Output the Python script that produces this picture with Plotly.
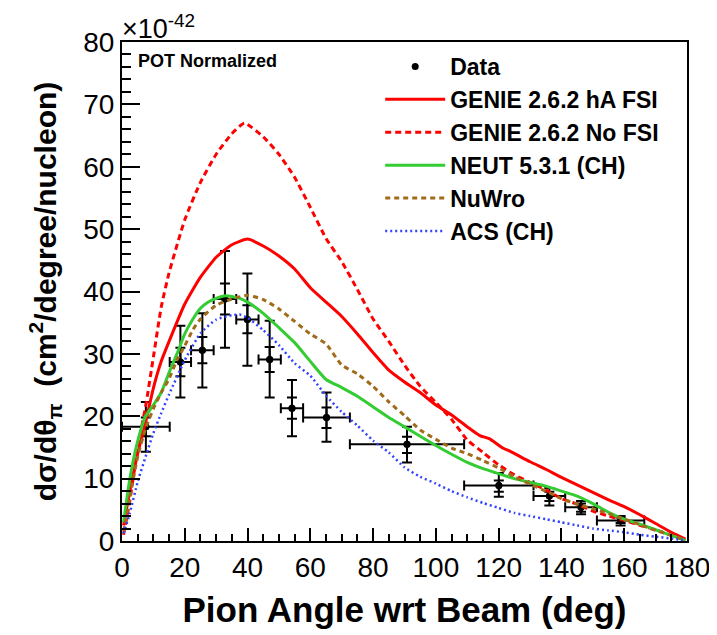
import plotly.graph_objects as go
import numpy as np

# ---------------- data ----------------
bin_edges = [0, 15.2, 22, 29.2, 36.4, 43.5, 50.6, 57.7, 72.6, 109, 131.1, 141.2, 151.3, 166.4]
data_y = [18.3, 28.7, 30.6, 38.8, 35.5, 29.1, 21.3, 19.8, 15.5, 8.9, 7.2, 5.4, 3.3]
tot_hi = [22.3, 34.5, 36.5, 46.5, 42.9, 35.3, 25.8, 23.8, 18.3, 10.9, 8.5, 6.4, 4.0]
tot_lo = [14.3, 23.0, 24.6, 31.0, 28.1, 23.0, 16.8, 15.9, 12.6, 7.1, 5.7, 4.3, 2.5]
stat_hi = [19.8, 31.0, 32.7, 41.3, 37.8, 31.1, 23.0, 21.4, 16.7, 9.7, 7.9, 6.0, 3.75]
stat_lo = [16.8, 26.4, 28.5, 36.3, 33.3, 27.1, 19.6, 18.1, 14.1, 7.9, 6.4, 4.7, 2.9]

genie_ha_x = [0.5, 2.5, 5, 7.5, 10, 12.5, 15, 20, 25, 30, 35, 40, 45, 50, 55, 60, 65, 70, 75, 80,
              85, 90, 95, 100, 105, 110, 114, 117, 121, 124, 130, 135, 140, 145, 150, 155, 160, 165,
              170, 175, 179.5]
genie_ha_y = [2.5, 8, 14, 19, 24.5, 28.8, 32, 38, 42.3, 45.5, 47.5, 48.4, 47.3, 45.7, 43.6, 40.6,
              38.3, 36.0, 33.2, 30.2, 27.4, 25.5, 23.8, 21.8, 20.2, 18.3, 16.9, 16.4, 15.0, 14.3,
              12.7, 11.5, 10.2, 9.0, 7.8, 6.6, 5.5, 4.2, 2.8, 1.4, 0.3]

genie_nofsi_x = [0.5, 2.5, 5, 7.5, 10, 12.5, 15, 20, 25, 30, 35, 39, 45, 50, 55, 60, 65, 70, 75, 80,
                 85, 90, 95, 100, 105, 110, 115, 120, 125, 130, 135, 140, 145, 150, 155, 160, 165,
                 170, 175, 179.5]
genie_nofsi_y = [1, 6.5, 15, 21.5, 29.5, 37.5, 43, 51.5, 57.5, 62, 65.3, 67.0, 64.8, 62, 58.3, 53.5,
                 48.5, 44.8, 40.3, 35.6, 32, 28.2, 24.8, 22.2, 19.5, 16.2, 14.2, 12.2, 10.6, 9.4,
                 8.2, 6.8, 5.9, 4.8, 4.0, 3.3, 2.5, 1.8, 0.9, 0.1]

neut_x = [0.5, 2.5, 5, 7.5, 10, 12.5, 15, 17.5, 20, 22.5, 25, 27.5, 30, 33, 37.5, 40, 45, 50, 55, 60,
          65, 70, 75, 80, 85, 90, 95, 100, 105, 110, 115, 120, 125, 130, 135, 140, 145, 150, 155,
          160, 165, 170, 175, 179.5]
neut_y = [3, 10, 16, 20, 21.8, 23.8, 27, 30, 33.2, 35.5, 37.3, 38.3, 38.9, 39.3, 38.9, 38.3, 36.5,
          34.2, 31.8, 28.8, 25.9, 24.6, 23.2, 21.5, 19.8, 18.3, 16.8, 15.3, 13.9, 12.6, 11.6, 10.8,
          10.0, 9.4, 8.8, 8.0, 7.2, 6.0, 4.6, 3.5, 2.7, 1.8, 0.9, 0.1]

nuwro_x = [0.5, 2.5, 5, 7.5, 10, 12.5, 15, 17.5, 20, 22.5, 25, 30, 35, 40, 45, 50, 55, 60, 65, 70,
           75, 80, 85, 90, 95, 100, 105, 110, 115, 120, 125, 130, 135, 140, 145, 150, 155, 160,
           165, 170, 175, 179.5]
nuwro_y = [1.5, 7, 13.5, 18, 21.2, 23.8, 26, 29, 31.3, 33.8, 35.6, 37.8, 38.8, 39.4, 38.7, 37.2,
           35.2, 33.2, 31.6, 28.2, 26.8, 24.8, 22.3, 20.1, 17.8, 16.3, 14.9, 14.0, 12.9, 11.7,
           10.3, 9.1, 8.0, 6.8, 5.9, 5.2, 4.4, 3.5, 2.6, 1.7, 0.9, 0.1]

acs_x = [0.5, 2.5, 5, 7.5, 10, 12.5, 15, 20, 25, 30, 35, 37.5, 40, 45, 50, 55, 60, 65, 70, 75, 80,
         85, 90, 95, 100, 105, 110, 115, 120, 125, 130, 135, 140, 145, 150, 155, 160, 165, 170,
         175, 179.5]
acs_y = [1.2, 4.5, 9.5, 13.5, 17.3, 20.5, 23.5, 29, 33.3, 35.5, 36.2, 36.3, 35.8, 33.8, 31.4, 28.5,
         26.5, 23.3, 20.7, 18.5, 16.1, 14.2, 11.8, 10.3, 9.2, 8.0, 7.0, 6.1, 5.3, 4.5, 4.0, 3.5,
         3.0, 2.5, 2.0, 1.7, 1.4, 1.0, 0.7, 0.4, 0.1]

x_ticks = [0, 20, 40, 60, 80, 100, 120, 140, 160, 180]
y_ticks = [0, 10, 20, 30, 40, 50, 60, 70, 80]

# ---------------- derived ----------------
edges = np.array(bin_edges)
cx = (edges[:-1] + edges[1:]) / 2
xm = cx - edges[:-1]
xp = edges[1:] - cx
y = np.array(data_y)

FONT = "Liberation Sans, Arial, Helvetica, sans-serif"

fig = go.Figure()

fig.add_trace(go.Scatter(
    x=cx, y=y, mode="markers", name="<b>Data</b>",
    marker=dict(color="black", size=7),
    error_x=dict(type="data", symmetric=False, array=xp, arrayminus=xm,
                 color="black", thickness=2, width=5),
    error_y=dict(type="data", symmetric=False, array=np.array(tot_hi) - y,
                 arrayminus=y - np.array(tot_lo), color="black", thickness=2, width=5),
))
fig.add_trace(go.Scatter(
    x=cx, y=y, mode="markers", showlegend=False, hoverinfo="skip",
    marker=dict(color="black", size=7),
    error_y=dict(type="data", symmetric=False, array=np.array(stat_hi) - y,
                 arrayminus=y - np.array(stat_lo), color="black", thickness=2, width=5),
))

fig.add_trace(go.Scatter(x=genie_ha_x, y=genie_ha_y, mode="lines", name="<b>GENIE 2.6.2 hA FSI</b>",
                         line=dict(color="#ff0000", width=3, shape="spline", smoothing=0.5)))
fig.add_trace(go.Scatter(x=genie_nofsi_x, y=genie_nofsi_y, mode="lines", name="<b>GENIE 2.6.2 No FSI</b>",
                         line=dict(color="#ff0000", width=3, dash="6px,4px", shape="spline", smoothing=0.5)))
fig.add_trace(go.Scatter(x=neut_x, y=neut_y, mode="lines", name="<b>NEUT 5.3.1 (CH)</b>",
                         line=dict(color="#33cc33", width=3, shape="spline", smoothing=0.5)))
fig.add_trace(go.Scatter(x=nuwro_x, y=nuwro_y, mode="lines", name="<b>NuWro</b>",
                         line=dict(color="#a06b1a", width=3, dash="5px,4px", shape="spline", smoothing=0.5)))
fig.add_trace(go.Scatter(x=acs_x, y=acs_y, mode="lines", name="<b>ACS (CH)</b>",
                         line=dict(color="#3344ff", width=2.5, dash="2px,3px", shape="spline", smoothing=0.5)))

axis_common = dict(
    showgrid=False, zeroline=False, showline=True, linecolor="black", linewidth=2,
    mirror=True, ticks="inside", tickcolor="black", tickwidth=1.5, automargin=False,
    tickfont=dict(family=FONT, size=28, color="black"),
)

fig.update_xaxes(
    range=[0, 180], tickvals=x_ticks, ticktext=[str(v) for v in x_ticks], ticklen=13,
    minor=dict(dtick=5, tick0=0, ticklen=7, ticks="inside", tickcolor="black", tickwidth=1.5),
    title=dict(text="<b>Pion Angle wrt Beam (deg)</b>", font=dict(family=FONT, size=35, color="black"),
               standoff=16),
    **axis_common,
)
fig.update_yaxes(
    range=[0, 80], tickvals=y_ticks, ticktext=[str(v) for v in y_ticks], ticklen=18,
    minor=dict(dtick=2, tick0=0, ticklen=9, ticks="inside", tickcolor="black", tickwidth=1.5),
    title=dict(text="<b>dσ/dθ<sub>π</sub>  (cm<sup>2</sup>/degree/nucleon)</b>",
               font=dict(family=FONT, size=30, color="black"), standoff=18),
    **axis_common,
)

# page body adds an 8px offset; margins compensate so the plot frame lands where the reference has it
fig.update_layout(
    width=717, height=635,
    margin=dict(l=114, r=38, t=34, b=102),
    paper_bgcolor="white", plot_bgcolor="white",
    showlegend=True,
    legend=dict(x=0.457, y=0.994, xanchor="left", yanchor="top",
                bgcolor="rgba(0,0,0,0)", borderwidth=0,
                font=dict(family=FONT, size=23, color="black"),
                itemwidth=60, tracegroupgap=0),
    annotations=[
        dict(text="×10<sup>-42</sup>", x=0, y=1, xref="paper", yref="paper",
             xanchor="left", yanchor="bottom", showarrow=False,
             font=dict(family=FONT, size=27, color="black"), xshift=-2, yshift=-4),
        dict(text="<b>POT Normalized</b>", x=0.025, y=0.985, xref="paper", yref="paper",
             xanchor="left", yanchor="top", showarrow=False,
             font=dict(family=FONT, size=18, color="black")),
    ],
)

fig.write_html("out.html")
